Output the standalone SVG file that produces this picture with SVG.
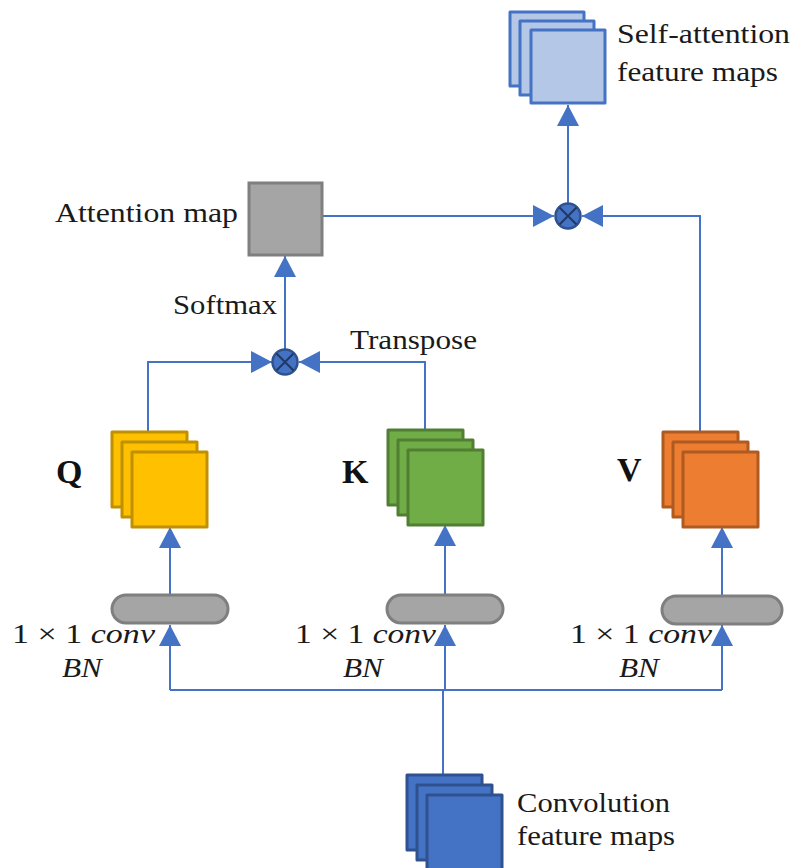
<svg xmlns="http://www.w3.org/2000/svg" width="794" height="868" viewBox="0 0 794 868">
  <style>
    .lbl { font-family: "Liberation Serif", "DejaVu Serif", serif; font-size: 28px; fill: #1a1a1a; }
    .math { font-family: "Liberation Serif", "DejaVu Serif", serif; font-size: 27px; fill: #1a1a1a; }
    .it { font-style: italic; }
    .big { font-family: "Liberation Serif", "DejaVu Serif", serif; font-size: 34px; font-weight: bold; fill: #111; }
    .wire { fill: none; stroke: #4472c4; stroke-width: 2; }
    .fm { stroke-width: 3; stroke-linejoin: round; }
    .q { fill: #ffc000; stroke: #bf9000; }
    .k { fill: #70ad47; stroke: #507e32; }
    .v { fill: #ed7d31; stroke: #ae5a21; }
    .sa { fill: #b4c7e7; stroke: #4472c4; }
    .cv { fill: #4472c4; stroke: #2f528f; }
    .pill { fill: #a5a5a5; stroke: #7f7f7f; stroke-width: 3; }
    .mul { fill: #4472c4; stroke: #2f528f; stroke-width: 2.5; }
    .mulx { stroke: #1f3864; stroke-width: 2; }
  </style>
  <defs>
    <marker id="arrow" viewBox="0 0 22 24" markerWidth="22" markerHeight="24" refX="21" refY="12" orient="auto" markerUnits="userSpaceOnUse">
      <path d="M0,1 L21,12 L0,23 z" fill="#4472c4"/>
    </marker>
    <!-- one stacked feature-map tile: three 75px squares offset by 10px -->
    <g id="stack">
      <rect x="0" y="0" width="75" height="75"/>
      <rect x="10" y="10" width="75" height="75"/>
      <rect x="20" y="20" width="75" height="75"/>
    </g>
  </defs>

  <!-- connectors -->
  <g id="connectors">
    <!-- input fan-out -->
    <path class="wire" d="M443,775 V690"/>
    <path class="wire" d="M170,690 H722"/>
    <path class="wire" d="M170,690 V625" marker-end="url(#arrow)"/>
    <path class="wire" d="M445,690 V625" marker-end="url(#arrow)"/>
    <path class="wire" d="M722,690 V625" marker-end="url(#arrow)"/>
    <!-- conv to Q/K/V -->
    <path class="wire" d="M170,595 V527" marker-end="url(#arrow)"/>
    <path class="wire" d="M445,595 V525" marker-end="url(#arrow)"/>
    <path class="wire" d="M722,596 V527" marker-end="url(#arrow)"/>
    <!-- Q and K^T into first product -->
    <path class="wire" d="M148,432 V362 H272" marker-end="url(#arrow)"/>
    <path class="wire" d="M425,431 V362 H299" marker-end="url(#arrow)"/>
    <!-- softmax to attention map -->
    <path class="wire" d="M285,349 V256" marker-end="url(#arrow)"/>
    <!-- attention map and V into second product -->
    <path class="wire" d="M322,216 H554" marker-end="url(#arrow)"/>
    <path class="wire" d="M700,432 V216 H582" marker-end="url(#arrow)"/>
    <!-- output -->
    <path class="wire" d="M568,203 V105" marker-end="url(#arrow)"/>
  </g>

  <!-- self-attention output -->
  <g id="self-attention">
    <g class="fm sa">
      <rect x="510" y="12" width="74" height="74"/>
      <rect x="520" y="21" width="74" height="74"/>
      <rect x="531" y="30" width="74" height="73"/>
    </g>
    <text class="lbl" x="617" y="43" textLength="173" lengthAdjust="spacingAndGlyphs">Self-attention</text>
    <text class="lbl" x="617" y="81" textLength="161" lengthAdjust="spacingAndGlyphs">feature maps</text>
  </g>

  <!-- attention map -->
  <g id="attention-map">
    <rect x="249" y="183" width="73" height="72" fill="#a5a5a5" stroke="#7f7f7f" stroke-width="3"/>
    <text class="lbl" x="55" y="222" textLength="183" lengthAdjust="spacingAndGlyphs">Attention map</text>
  </g>

  <text class="lbl" x="173" y="314" textLength="104" lengthAdjust="spacingAndGlyphs">Softmax</text>
  <text class="lbl" x="350" y="349" textLength="127" lengthAdjust="spacingAndGlyphs">Transpose</text>

  <!-- matrix products -->
  <g id="mul-qk">
    <circle class="mul" cx="285" cy="362" r="12.5"/>
    <path class="mulx" d="M276.5,353.5 L293.5,370.5 M293.5,353.5 L276.5,370.5"/>
  </g>
  <g id="mul-av">
    <circle class="mul" cx="568" cy="216" r="12.5"/>
    <path class="mulx" d="M559.5,207.5 L576.5,224.5 M576.5,207.5 L559.5,224.5"/>
  </g>

  <!-- query -->
  <g id="query">
    <use href="#stack" class="fm q" x="112" y="432"/>
    <text class="big" x="56" y="483">Q</text>
  </g>
  <!-- key -->
  <g id="key">
    <use href="#stack" class="fm k" x="388" y="430"/>
    <text class="big" x="342" y="483">K</text>
  </g>
  <!-- value -->
  <g id="value">
    <use href="#stack" class="fm v" x="663" y="432"/>
    <text class="big" x="617" y="481">V</text>
  </g>

  <!-- 1x1 conv + BN blocks -->
  <g id="conv-q">
    <rect class="pill" x="112" y="595" width="116" height="28" rx="14"/>
    <text class="math" x="12" y="643" textLength="143" lengthAdjust="spacingAndGlyphs">1 × 1 <tspan class="it">conv</tspan></text>
    <text class="math it" x="62" y="677" textLength="40" lengthAdjust="spacingAndGlyphs">BN</text>
  </g>
  <g id="conv-k">
    <rect class="pill" x="387" y="595" width="116" height="28" rx="14"/>
    <text class="math" x="295" y="643" textLength="141" lengthAdjust="spacingAndGlyphs">1 × 1 <tspan class="it">conv</tspan></text>
    <text class="math it" x="343" y="677" textLength="40" lengthAdjust="spacingAndGlyphs">BN</text>
  </g>
  <g id="conv-v">
    <rect class="pill" x="662" y="596" width="120" height="28" rx="14"/>
    <text class="math" x="570" y="643" textLength="142" lengthAdjust="spacingAndGlyphs">1 × 1 <tspan class="it">conv</tspan></text>
    <text class="math it" x="619" y="677" textLength="40" lengthAdjust="spacingAndGlyphs">BN</text>
  </g>

  <!-- convolution input -->
  <g id="conv-input">
    <use href="#stack" class="fm cv" x="407" y="775"/>
    <text class="lbl" x="517" y="812" textLength="153" lengthAdjust="spacingAndGlyphs">Convolution</text>
    <text class="lbl" x="517" y="845" textLength="158" lengthAdjust="spacingAndGlyphs">feature maps</text>
  </g>
</svg>
